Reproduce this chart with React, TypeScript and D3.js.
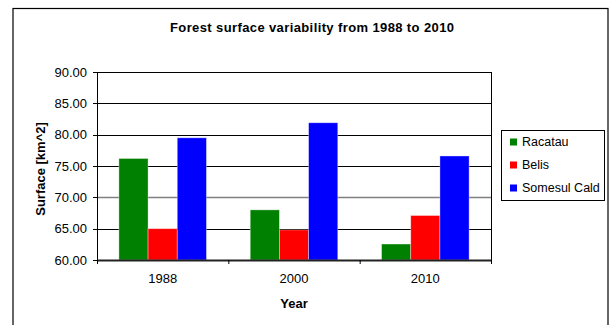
import React from "react";
import * as d3 from "d3";

const categories = ["1988", "2000", "2010"];
const seriesNames = ["Racatau", "Belis", "Somesul Cald"];
const seriesColors = ["#008000", "#ff0000", "#0000ff"];
const racatau = [76.2, 68.0, 62.55];
const belis = [65.0, 64.8, 67.1];
const somesulCald = [79.5, 81.9, 76.6];
const yTicks = [60, 65, 70, 75, 80, 85, 90];
const title = "Forest surface variability from 1988 to 2010";
const xTitle = "Year";
const yTitle = "Surface [km^2]";

const seriesValues = [racatau, belis, somesulCald];

export default function App() {
  const W = 611, H = 325;
  const left = 97, right = 491, top = 72, bottom = 260;
  const font = "'Liberation Sans', Arial, sans-serif";

  const x = d3.scaleBand<string>().domain(categories).range([left, right])
    .paddingInner(1 / 3).paddingOuter(1 / 6);
  const xs = d3.scaleBand<string>().domain(seriesNames).range([0, x.bandwidth()]);
  const y = d3.scaleLinear().domain([60, 90]).range([bottom, top]);
  const step = x.step();
  const boundaries = d3.range(categories.length + 1).map((i) => left + i * step);

  return (
    <svg width={W} height={H} style={{ position: "absolute", left: 0, top: 0, background: "#fff" }}
      fontFamily={font}>
      <rect x={0} y={0} width={W} height={H} fill="#fff" />
      <rect x={13} y={8.5} width={595} height={340} fill="none" stroke="#000" strokeWidth={1.2} />
      <text x={312} y={31.5} textAnchor="middle" fontSize={13} fontWeight="bold"
        textLength={284} lengthAdjust="spacing">{title}</text>

      {/* gridlines */}
      {yTicks.map((t) => (
        <line key={"g" + t} x1={left} x2={right} y1={Math.round(y(t)) + 0.5} y2={Math.round(y(t)) + 0.5}
          stroke={t === 70 ? "#808080" : "#000"} strokeWidth={t === 70 ? 1.6 : 1} />
      ))}
      <line x1={right + 0.5} x2={right + 0.5} y1={top} y2={bottom} stroke="#000" strokeWidth={1} />

      {/* bars */}
      {seriesValues.map((vals, si) =>
        vals.map((v, ci) => (
          <rect key={si + "-" + ci}
            x={(x(categories[ci]) as number) + (xs(seriesNames[si]) as number)}
            y={y(v)} width={xs.bandwidth()} height={bottom - y(v)}
            fill={seriesColors[si]} stroke="rgba(255,255,255,0.45)" strokeWidth={0.8} />
        ))
      )}

      {/* y axis */}
      <line x1={left + 0.5} x2={left + 0.5} y1={top} y2={bottom} stroke="#000" strokeWidth={1} />
      {yTicks.map((t) => (
        <g key={"t" + t}>
          <line x1={93} x2={left} y1={Math.round(y(t)) + 0.5} y2={Math.round(y(t)) + 0.5} stroke="#000" />
          <text x={87} y={y(t)} textAnchor="end" dominantBaseline="central" fontSize={13}>
            {d3.format(".2f")(t)}
          </text>
        </g>
      ))}

      {/* x axis */}
      <line x1={left} x2={right + 1} y1={bottom + 0.5} y2={bottom + 0.5} stroke="#222" strokeWidth={1.8} />
      {boundaries.map((b, i) => (
        <line key={"b" + i} x1={b + 0.5} x2={b + 0.5} y1={bottom} y2={bottom + 4} stroke="#000" />
      ))}
      {categories.map((c) => (
        <text key={c} x={(x(c) as number) + x.bandwidth() / 2} y={283} textAnchor="middle" fontSize={13}>{c}</text>
      ))}
      <text x={(left + right) / 2} y={308} textAnchor="middle" fontSize={13} fontWeight="bold">{xTitle}</text>
      <text transform={`translate(44.5, ${169}) rotate(-90)`} textAnchor="middle" fontSize={13} fontWeight="bold">
        {yTitle}
      </text>

      {/* legend */}
      <rect x={501.5} y={130.5} width={103} height={70} fill="#fff" stroke="#000" strokeWidth={1} />
      {seriesNames.map((n, i) => (
        <g key={n}>
          <rect x={510} y={[142, 165, 188][i] - 3.5} width={7} height={7} fill={seriesColors[i]} />
          <text x={522} y={[142, 165, 188][i]} dominantBaseline="central" fontSize={12.5}>{n}</text>
        </g>
      ))}
    </svg>
  );
}
